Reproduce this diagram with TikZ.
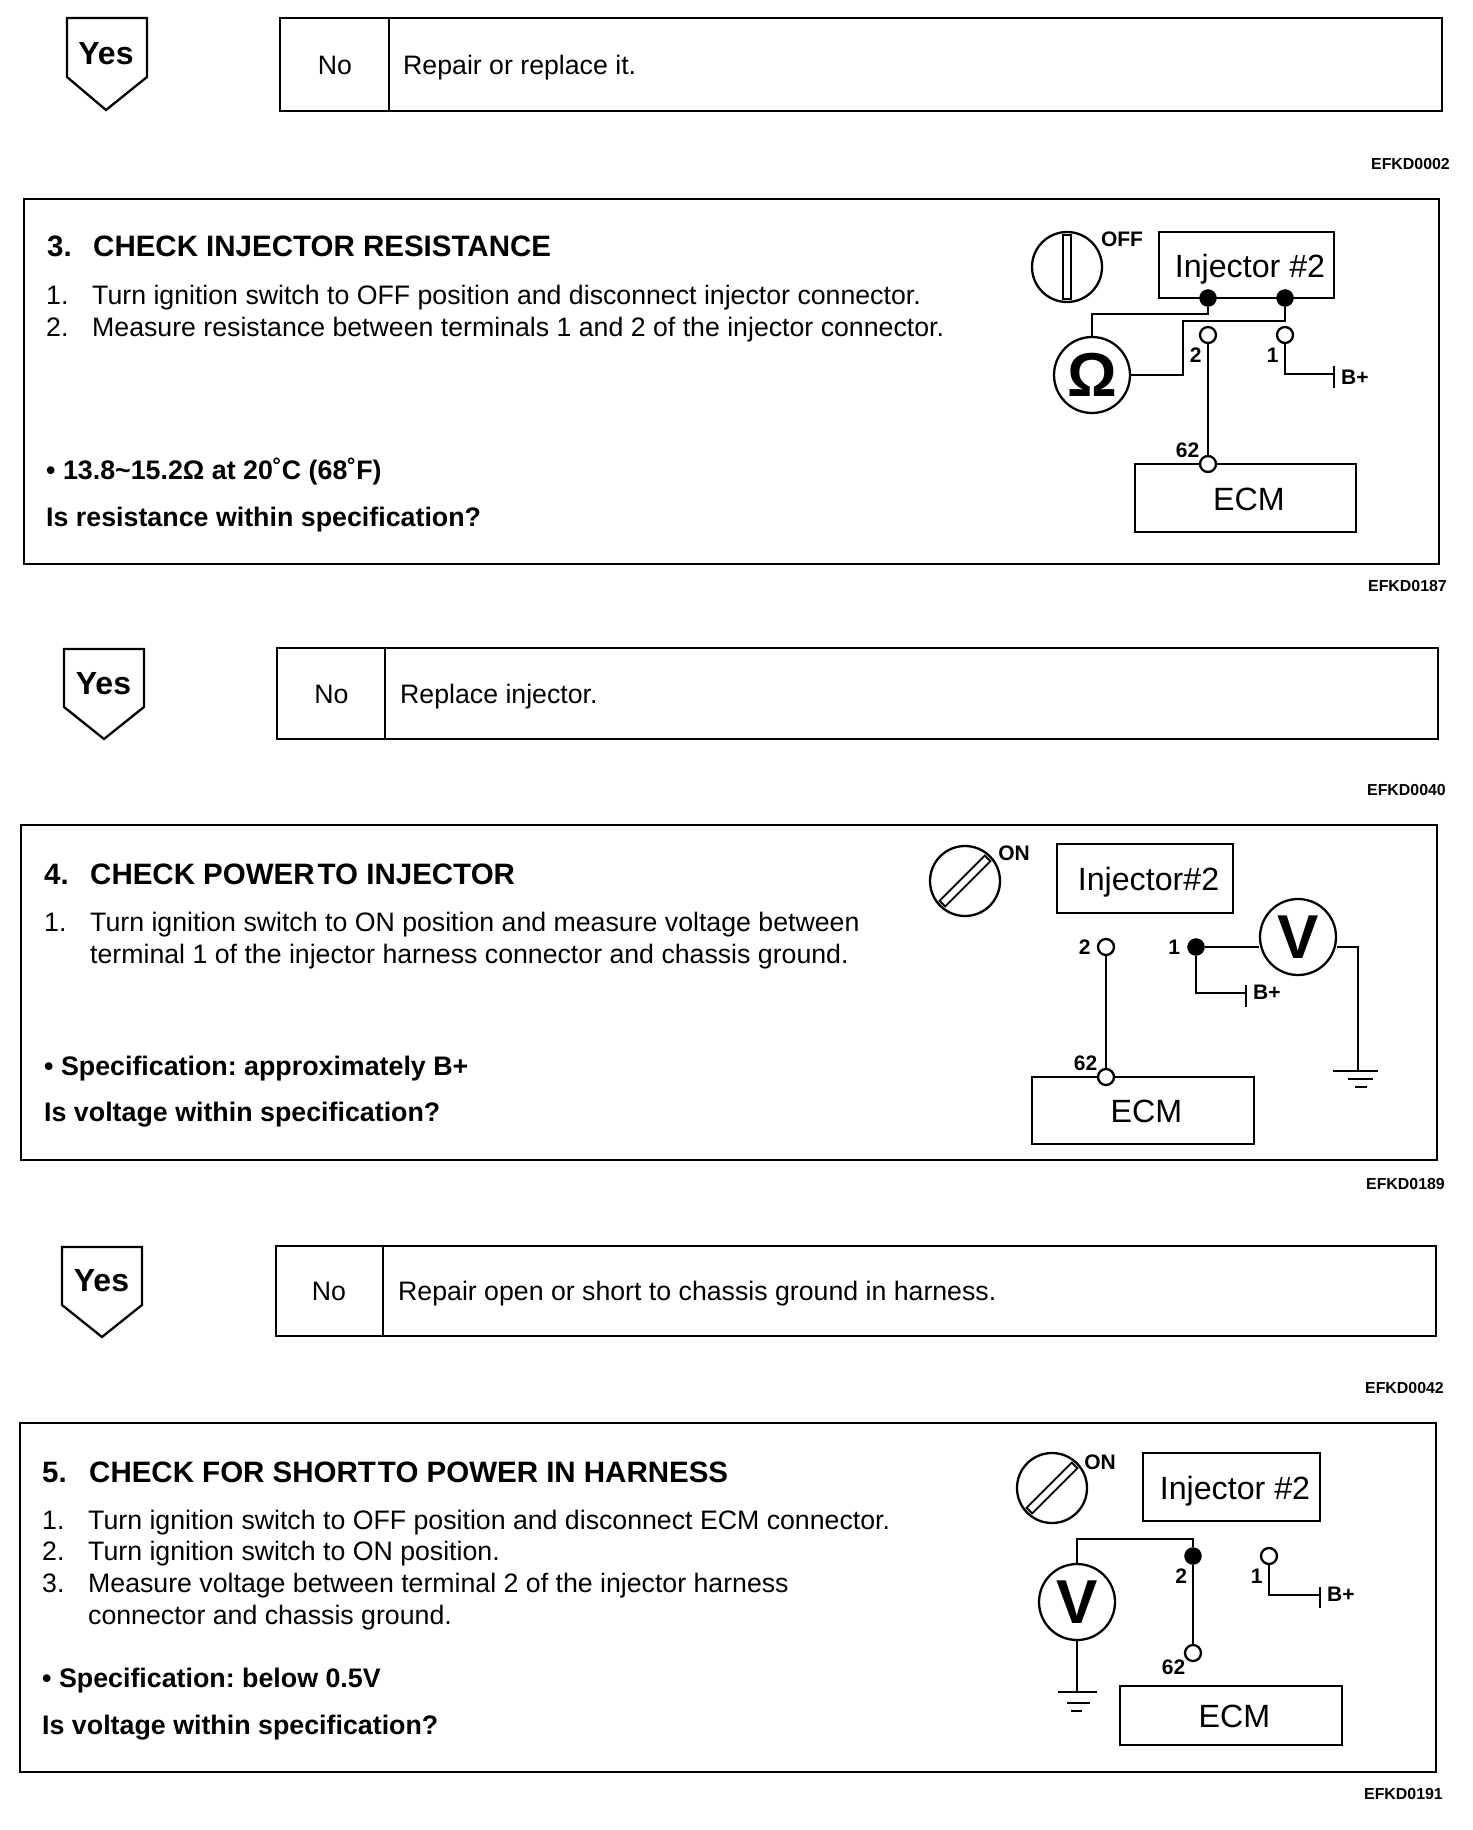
\documentclass[tikz,border=0pt]{standalone}
\usepackage{fontspec}
\setmainfont{Liberation Sans}
\frenchspacing
\usetikzlibrary{positioning}
\begin{document}
\begin{tikzpicture}[
        x=1pt, y=-1pt,
        line join=miter,
        frame/.style={draw=black, line width=2.3pt, fill=white},
        box/.style={draw=black, line width=2.3pt, inner sep=0pt, text height=24pt, text depth=0pt,
            execute at begin node=\hspace{7pt}, font=\fontsize{32.2}{32.2}\selectfont},
        txt/.style={anchor=west, inner sep=0pt, text height=25pt, text depth=6pt, font=\fontsize{26.7}{26.7}\selectfont},
        head/.style={txt, text height=28pt, font=\fontsize{29.5}{29.5}\selectfont\bfseries},
        spec/.style={txt, font=\fontsize{26.8}{26.8}\selectfont\bfseries},
        yesTxt/.style={font=\fontsize{32}{32}\selectfont\bfseries},
        code/.style={anchor=east, inner sep=0pt, yshift=1pt, font=\fontsize{15.9}{15.9}\selectfont\bfseries},
        lbl/.style={inner sep=0pt, font=\fontsize{21}{21}\selectfont\bfseries},
        wire/.style={draw=black, line width=2.4pt},
        meter/.style={circle, draw=black, line width=2.3pt, fill=white, inner sep=0pt, minimum size=76pt, font=\fontsize{62}{62}\selectfont\bfseries},
        dial/.style={circle, draw=black, line width=2.3pt, inner sep=0pt, minimum size=70pt},
        slot/.style={rectangle, draw=black, line width=1.8pt, inner sep=0pt, minimum width=64pt, minimum height=8pt},
        tOpen/.style={circle, draw=black, line width=2.3pt, fill=white, inner sep=0pt, minimum size=16pt},
        tShut/.style={circle, draw=black, fill=black, inner sep=0pt, minimum size=17pt}
    ]
        \useasboundingbox (0,0) rectangle (1472,1830);

        % first answer row
        \draw[frame] (67,18) -- (147,18) -- (147,77) -- (106,110) -- (67,77) -- cycle;
        \node[yesTxt] (yes2) at (106,54) {Yes};
        \draw[frame] (280,18) rectangle (1442,111);
        \draw[frame] (389,18) -- (389,111);
        \node[txt, anchor=center] (no2) at (335,65) {No};
        \node[txt] (fix2) at (403,65) {Repair or replace it.};
        \node[code] (code2) at (1450,165) {EFKD0002};

        % step 3
        \draw[frame] (24,199) rectangle (1439,564);
        \node[head] (num3) at (47,245) {3.};
        \node[head] (title3) at (93,245) {CHECK INJECTOR RESISTANCE};
        \node[txt] (a31) at (46,295) {1.};
        \node[txt] (b31) at (92,295) {Turn ignition switch to OFF position and disconnect injector connector.};
        \node[txt] (a32) at (46,327) {2.};
        \node[txt] (b32) at (92,327) {Measure resistance between terminals 1 and 2 of the injector connector.};
        \node[spec] (spec3) at (46,470) {• 13.8\textasciitilde15.2Ω at 20˚C (68˚F)};
        \node[spec] (ask3) at (46,517) {Is resistance within specification?};
        \node[code] (code3) at (1447,587) {EFKD0187};

        \node[dial] (sw3) at (1067,267) {};
        \node[slot, rotate=90] (slot3) at (sw3) {};
        \node[lbl, anchor=center] (off3) at (1122,239) {OFF};
        \node[box, minimum width=175pt, minimum height=66pt] (inj3) at (1246.5,265) {Injector \#2};
        \node[box, minimum width=221pt, minimum height=68pt] (ecm3) at (1245.5,498) {ECM};
        \node[tShut] (d31) at (1208,298) {};
        \node[tShut] (d32) at (1285,298) {};
        \node[tOpen] (t32) at (1208,335) {};
        \node[tOpen] (t31) at (1285,335) {};
        \node[tOpen] (t362) at (1208,464) {};
        \node[meter] (ohm3) at (1092,375) {Ω};
        \node[lbl, left=-3pt of t32, yshift=-20pt] (n32) {2};
        \node[lbl, left=-3pt of t31, yshift=-20pt] (n31) {1};
        \node[lbl, above left=0pt and 2pt of t362] (n362) {62};
        \coordinate (j31) at (1208,314);
        \coordinate (j32) at (1183,321);
        \coordinate (j33) at (1285,321);
        \coordinate (bat3) at (1334,374);
        \draw[wire] (ohm3.north) |- (j31) -- (d31);
        \draw[wire] (ohm3.east) -| (j32) -- (j33) -- (d32);
        \draw[wire] (t32) -- (t362);
        \draw[wire] (t31) |- (bat3);
        \draw[wire] (bat3) +(0,-8) -- +(0,14);
        \node[lbl, right=7pt of bat3, yshift=-3pt] (bp3) {B+};

        % second answer row
        \draw[frame] (64,649) -- (144,649) -- (144,707) -- (104,739) -- (64,707) -- cycle;
        \node[yesTxt] (yes3) at (103.5,684) {Yes};
        \draw[frame] (277,648) rectangle (1438,739);
        \draw[frame] (385,648) -- (385,739);
        \node[txt, anchor=center] (no3) at (331.5,694) {No};
        \node[txt] (fix3) at (400,694) {Replace injector.};
        \node[code] (code40) at (1446,791) {EFKD0040};

        % step 4
        \draw[frame] (21,825) rectangle (1437,1160);
        \node[head] (num4) at (44,873) {4.};
        \node[head] (title4) at (90,873) {CHECK POWER\hspace{3pt}TO INJECTOR};
        \node[txt] (a41) at (44,922) {1.};
        \node[txt] (b41) at (90,922) {Turn ignition switch to ON position and measure voltage between};
        \node[txt] (b42) at (90,954) {terminal 1 of the injector harness connector and chassis ground.};
        \node[spec] (spec4) at (44,1066) {• Specification: approximately B+};
        \node[spec] (ask4) at (44,1112) {Is voltage within specification?};
        \node[code] (code4) at (1445,1185) {EFKD0189};

        \node[dial] (sw4) at (965,881) {};
        \node[slot, rotate=45] (slot4) at (sw4) {};
        \node[lbl, anchor=center] (on4) at (1014,853) {ON};
        \node[box, minimum width=176pt, minimum height=69pt] (inj4) at (1145,878.5) {Injector\#2};
        \node[box, minimum width=222pt, minimum height=67pt] (ecm4) at (1143,1110.5) {ECM};
        \node[tOpen] (t42) at (1106,947) {};
        \node[tShut] (t41) at (1196,947) {};
        \node[tOpen] (t462) at (1106,1077) {};
        \node[meter] (volt4) at (1298,937) {V};
        \node[lbl, left=6pt of t42] (n42) {2};
        \node[lbl, left=7pt of t41] (n41) {1};
        \node[lbl, above left=0pt and 2pt of t462] (n462) {62};
        \coordinate (bat4) at (1246,993);
        \coordinate (gnd4) at (1358,1071);
        \coordinate (j41) at (1358,947);
        \draw[wire] (t42) -- (t462);
        \draw[wire] (t41) -- (t41 -| volt4.west);
        \draw[wire] (volt4.east |- j41) -- (j41) -- (gnd4);
        \draw[wire] (t41) |- (bat4);
        \draw[wire] (bat4) +(0,-8) -- +(0,14);
        \node[lbl, right=7pt of bat4, yshift=1pt] (bp4) {B+};
        \draw[wire] (gnd4) +(-25,0) -- +(20,0);
        \draw[wire] (gnd4) +(-10,8) -- +(15,8);
        \draw[wire] (gnd4) +(-3,16) -- +(9,16);

        % third answer row
        \draw[frame] (62,1247) -- (142,1247) -- (142,1305) -- (102,1337) -- (62,1305) -- cycle;
        \node[yesTxt] (yes4) at (101.5,1281) {Yes};
        \draw[frame] (276,1246) rectangle (1436,1336);
        \draw[frame] (383,1246) -- (383,1336);
        \node[txt, anchor=center] (no4) at (329,1291) {No};
        \node[txt] (fix4) at (398,1291) {Repair open or short to chassis ground in harness.};
        \node[code] (code42) at (1444,1389) {EFKD0042};

        % step 5
        \draw[frame] (20,1423) rectangle (1436,1772);
        \node[head] (num5) at (42,1471) {5.};
        \node[head] (title5) at (89,1471) {CHECK FOR SHORT\hspace{2pt}TO POWER IN HARNESS};
        \node[txt] (a51) at (42,1520) {1.};
        \node[txt] (b51) at (88,1520) {Turn ignition switch to OFF position and disconnect ECM connector.};
        \node[txt] (a52) at (42,1551) {2.};
        \node[txt] (b52) at (88,1551) {Turn ignition switch to ON position.};
        \node[txt] (a53) at (42,1583) {3.};
        \node[txt] (b53) at (88,1583) {Measure voltage between terminal 2 of the injector harness};
        \node[txt] (b54) at (88,1615) {connector and chassis ground.};
        \node[spec] (spec5) at (42,1678) {• Specification: below 0.5V};
        \node[spec] (ask5) at (42,1725) {Is voltage within specification?};
        \node[code] (code5) at (1443,1795) {EFKD0191};

        \node[dial] (sw5) at (1052,1488) {};
        \node[slot, rotate=45] (slot5) at (sw5) {};
        \node[lbl, anchor=center] (on5) at (1100,1462) {ON};
        \node[box, minimum width=177pt, minimum height=68pt] (inj5) at (1231.5,1487) {Injector \#2};
        \node[box, minimum width=222pt, minimum height=59pt] (ecm5) at (1231,1715.5) {ECM};
        \node[tShut] (t52) at (1193,1556) {};
        \node[tOpen] (t51) at (1269,1556) {};
        \node[tOpen] (t562) at (1193,1653) {};
        \node[meter] (volt5) at (1077,1602) {V};
        \node[lbl, left=-3pt of t52, yshift=-20pt] (n52) {2};
        \node[lbl, left=-3pt of t51, yshift=-20pt] (n51) {1};
        \node[lbl, below left=0pt and 1pt of t562] (n562) {62};
        \coordinate (j51) at (1077,1539);
        \coordinate (j52) at (1193,1539);
        \coordinate (bat5) at (1320,1595);
        \coordinate (gnd5) at (1077,1692);
        \draw[wire] (volt5.north) -- (j51) -- (j52) -- (t52);
        \draw[wire] (t52) -- (t562);
        \draw[wire] (t51) |- (bat5);
        \draw[wire] (bat5) +(0,-8) -- +(0,13);
        \node[lbl, right=7pt of bat5, yshift=1pt] (bp5) {B+};
        \draw[wire] (volt5.south) -- (gnd5);
        \draw[wire] (gnd5) +(-19,0) -- +(20,0);
        \draw[wire] (gnd5) +(-10,11) -- +(13,11);
        \draw[wire] (gnd5) +(-6,19) -- +(5,19);
    \end{tikzpicture}
\end{document}
